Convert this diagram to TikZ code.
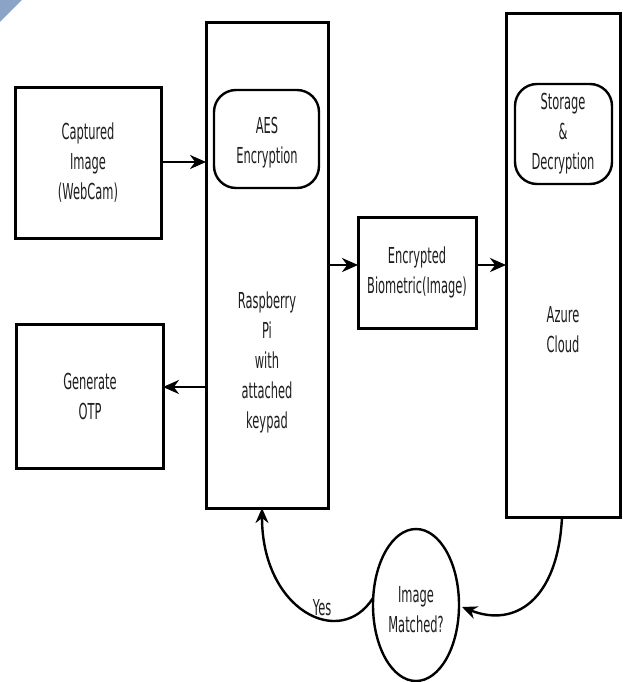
\documentclass[tikz,border=0pt]{standalone}
\usepackage{fontspec}
\setmainfont{DejaVu Sans}[FakeStretch=0.52]
\usetikzlibrary{arrows.meta}
\definecolor{triblue}{RGB}{138,163,199}
\definecolor{txt}{RGB}{30,30,30}
\tikzset{
  box/.style={draw, line width=3pt},
  rbox/.style={draw, line width=2.4pt, rounded corners=22pt},
  lbl/.style={font=\fontsize{22}{30}\selectfont, text=txt, align=center, inner sep=0pt},
  conn/.style={line width=2.8pt, -{Stealth[length=16pt,width=14pt]}},
  curv/.style={line width=2.4pt, -{Stealth[length=15pt,width=13pt]}},
}
\begin{document}
\begin{tikzpicture}[x=1pt,y=-1pt]
\useasboundingbox (0,0) rectangle (622,682);
\fill[triblue] (0,0) -- (22,0) -- (0,22) -- cycle;
% boxes
\draw[box] (15,88) rectangle (161,238);
\node[lbl] (cap) at (88,163) {Captured\\Image\\(WebCam)};
\coordinate (capR) at (161,162);
\draw[box] (206,23) rectangle (328,508);
\node[lbl] (rpi) at (267,362) {Raspberry\\Pi\\with\\attached\\keypad};
\coordinate (rpiL1) at (206,162);
\coordinate (rpiR) at (328,265);
\coordinate (rpiL2) at (206,387);
\coordinate (rpiB) at (262,508);
\draw[rbox] (214,90) rectangle (319,188);
\node[lbl] (aes) at (267,143) {AES\\Encryption};
\draw[box] (358,217) rectangle (476,328);
\node[lbl] (enc) at (417,272) {Encrypted\\Biometric(Image)};
\coordinate (encL) at (358,265);
\coordinate (encR) at (476,265);
\draw[box] (506,14) rectangle (620,517);
\node[lbl] (az) at (563,330) {Azure\\Cloud};
\coordinate (azL) at (506,265);
\coordinate (azB) at (562,517);
\draw[rbox] (515,84) rectangle (612,184);
\node[lbl] (st) at (563,134) {Storage\\\&\\Decryption};
\draw[box] (16,324) rectangle (163,468);
\node[lbl] (otp) at (90,396) {Generate\\OTP};
\coordinate (otpR) at (163,387);
\draw[line width=2.4pt] (416,605) ellipse [x radius=43, y radius=76];
\node[lbl] (im) at (416,610) {Image\\Matched?};
\coordinate (imL) at (373,598);
\coordinate (imR) at (462,607);
% connectors
\draw[conn] (capR) -- (rpiL1);
\draw[conn] (rpiR) -- (encL);
\draw[conn] (encR) -- (azL);
\draw[conn] (rpiL2) -- (otpR);
\draw[curv] (azB) .. controls (558,600) and (515,628) .. (imR);
\draw[curv] (imL) .. controls (340,650) and (262,610) .. (rpiB);
\node[lbl] (yes) at (322,608) {Yes};
\end{tikzpicture}
\end{document}
